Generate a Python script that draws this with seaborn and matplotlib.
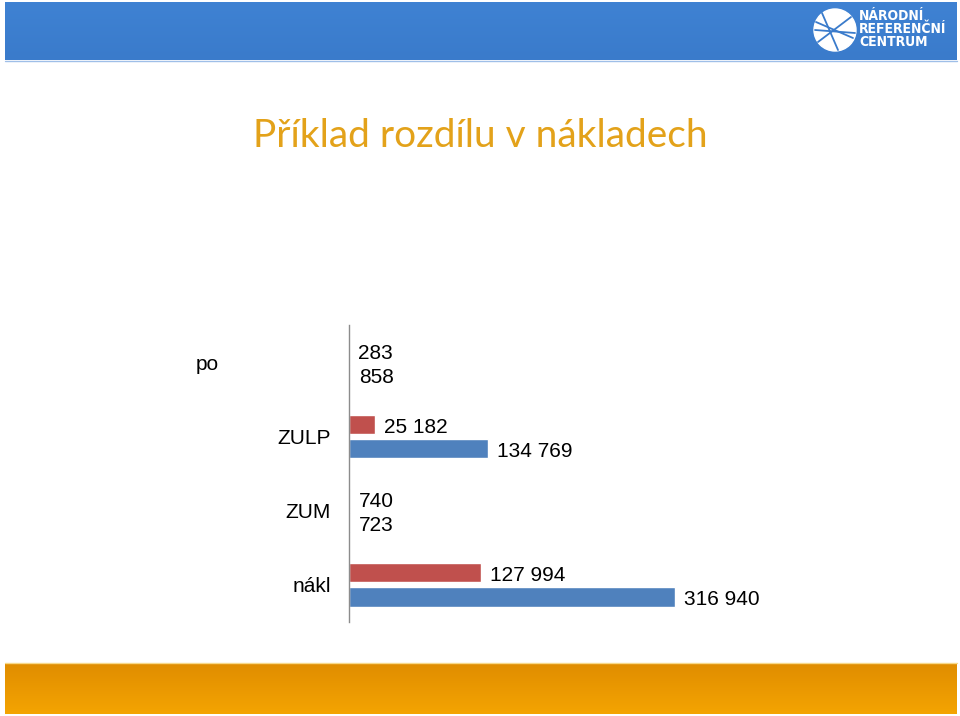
import numpy as np
import pandas as pd
import matplotlib
matplotlib.use("Agg")
import matplotlib.pyplot as plt
import matplotlib.transforms as mtransforms
from matplotlib.patches import Circle
from matplotlib.colors import LinearSegmentedColormap
import seaborn as sns

# ---- data ----
categories = ["po", "ZULP", "ZUM", "nákl"]
series_names = ["Série 1", "Série 2"]
values_red = [283, 25182, 740, 127994]
values_blue = [858, 134769, 723, 316940]
title_text = "Příklad rozdílu v nákladech"

df = pd.DataFrame({
    "kategorie": categories * 2,
    "serie": [series_names[0]] * 4 + [series_names[1]] * 4,
    "hodnota": values_red + values_blue,
})

sns.set_theme(style="white")
plt.rcParams['font.family'] = ['Liberation Sans', 'DejaVu Sans']

W, H = 960, 716
fig = plt.figure(figsize=(9.6, 7.16), dpi=100)

# ---- header / footer bands ----
bg = fig.add_axes([0, 0, 1, 1], zorder=-5)
bg.axis("off")
hdr = np.linspace(0, 1, 50).reshape(-1, 1)
cm_blue = LinearSegmentedColormap.from_list("b", ["#3F82D3", "#3A7BCB"])
cm_or = LinearSegmentedColormap.from_list("o", ["#E08D00", "#F4A402"])
bg.imshow(hdr, extent=[5, 957, 60, 2], cmap=cm_blue, aspect="auto", origin="upper")
bg.imshow(hdr, extent=[5, 957, 714, 663], cmap=cm_or, aspect="auto", origin="upper")
bg.plot([5, 957], [61, 61], color="#9FBFE8", lw=1)
bg.plot([5, 957], [662.5, 662.5], color="#F7D98A", lw=1)
bg.set_xlim(0, W); bg.set_ylim(H, 0)

# logo
bg.add_patch(Circle((835, 30), 21, color="white", zorder=3))
for (x0, y0, x1, y1) in [(816, 22, 853, 38), (818, 42, 851, 17), (822, 13, 838, 50), (815, 30, 855, 33)]:
    bg.plot([x0, x1], [y0, y1], color="#3A7BCB", lw=1.3, zorder=4)
bg.text(859, 29, "NÁRODNÍ\nREFERENČNÍ\nCENTRUM", color="white", fontsize=10,
        fontweight="bold", va="center", ha="left", linespacing=0.92,
        family=["DejaVu Sans"], fontstretch="condensed", zorder=5)

# title
fig.text(480 / W, 1 - 136 / H, title_text, color="#E3A21A", fontsize=28,
         ha="center", va="center", family=["Lato", "DejaVu Sans"])

# ---- chart ----
ax_left, ax_right = 349, 860
ax_top, ax_bot = 325, 622
ax = fig.add_axes([ax_left / W, 1 - ax_bot / H, (ax_right - ax_left) / W, (ax_bot - ax_top) / H])
sns.barplot(data=df, y="kategorie", x="hodnota", hue="serie", order=categories,
            hue_order=series_names, palette=["#C0504D", "#4F81BD"], orient="h",
            width=0.65, gap=0.2, ax=ax, legend=False, saturation=1)
scale = 326 / values_blue[3]
ax.set_xlim(0, (ax_right - ax_left) / scale)
ax.set_ylim(3.5, -0.5)

def fmt(v):
    return f"{v:,}".replace(",", " ")

for cont in ax.containers:
    texts = ax.bar_label(cont, labels=[fmt(int(b.get_width())) for b in cont],
                         padding=6.5, fontsize=15, color="black")
    for t in texts:
        t.xyann = (6.5, -2.2)

ax.set_xlabel(""); ax.set_ylabel("")
ax.set_xticks([])
for s in ["top", "right", "bottom"]:
    ax.spines[s].set_visible(False)
ax.spines["left"].set_color("#8C8C8C")
ax.spines["left"].set_linewidth(1)
ax.tick_params(axis="y", length=0, pad=13, labelsize=15, labelcolor="black")
ax.patch.set_alpha(0)

# first label sits further left in the reference
lab = ax.get_yticklabels()[0]
lab.set_transform(lab.get_transform() + mtransforms.ScaledTranslation(-112 / 100, 0, fig.dpi_scale_trans))

fig.savefig("out.png", dpi=100)
